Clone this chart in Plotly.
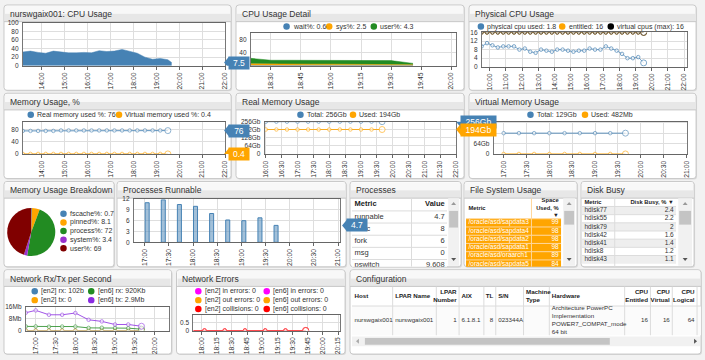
import plotly.graph_objects as go

# ---------------- data ----------------
DAY = "2024-05-14 "

cpu_times = ["13:10","13:30","13:50","14:10","14:30","14:50","15:10","15:30","15:50","16:10","16:30",
             "16:50","17:10","17:30","17:50","18:10","18:30","18:50","19:10","19:30","19:40"]
cpu_usage = [32,34,31,29,34,32,30,30,31,30,35,33,34,38,33,29,20,15,17,14,7.5]

det_times = ["18:20","18:30","18:40","18:50","19:00","19:10","19:20","19:30","19:41"]
det_wait = [1,1,1,1,1,1,1,1,0.6]
det_sys = [5,4,4,4,4,4,4,4,2.5]
det_user = [17,12,12,12,11,11,11,11,4.3]

phys_times = ["09:30","09:50","10:10","10:30","10:50","11:10","11:30","11:50","12:10","12:30","12:50",
              "13:10","13:30","13:50","14:10","14:30","14:50","15:10","15:30","15:50","16:10","16:30",
              "16:50","17:10","17:30","17:50","18:10","18:30","18:50","19:10","19:30"]
phys_used = [9.5,11,10,9,9.5,9.5,9.5,8,8.5,7,6.5,8,7.5,7,8,8,7.5,7,7.5,7.5,8.5,8,8,9.5,8.5,7.5,6,4,4,4.5,1.8]
phys_entitled = [16]*31
phys_virtual = [16]*31

mem_times = ["13:10","13:30","13:50","14:10","14:30","14:50","15:10","15:30","15:50","16:10",
             "16:30","16:50","17:10","17:30","17:50","18:10","18:30","18:50","19:10","19:30"]
mem_real = [75,75,75,75,75,76.5,76.5,76.5,76.5,76.5,76.5,76.5,76.5,76.5,76.5,76.5,76.5,76.5,76.5,76]
mem_virt = [0.4]*20

rmem_times = ["16:00","16:20","16:40","17:00","17:20","17:40","18:00","18:20","18:40","19:00","19:20","19:40"]
rmem_total = [256]*12
rmem_used = [194]*12

vmem_times = ["17:00","17:20","17:40","18:00","18:20","18:40","19:00","19:20","19:40"]
vmem_total = [129]*9
vmem_used = [0.482]*9

pie_labels = ["fscache%", "pinned%", "process%", "system%", "user%"]
pie_values = [0.7, 8.1, 72, 3.4, 69]
pie_colors = ["#4682b4", "#ffa500", "#228b22", "#9932cc", "#800000"]

run_times = ["17:03","17:23","17:43","18:03","18:23","18:43","19:03","19:23","19:43"]
run_values = [11,11.8,10.5,10,8,6.2,6,6.8,4.7]

proc_headers = ["Metric", "Value"]
proc_metric = ["runnable", "exec", "fork", "msg", "pswitch"]
proc_value = ["4.7", "8", "6", "0", "9,608"]

fs_headers = ["Metric", "Space<br>Used, %<br>▼"]
fs_metric = ["/oracle/asd/sapdata3","/oracle/asd/sapdata4","/oracle/asd/sapdata2",
             "/oracle/asd/sapdata1","/oracle/asd/oraarch1","/oracle/asd/sapdata5"]
fs_value = ["99","98","98","98","89","84"]

disk_headers = ["Metric", "Disk Busy, % ▼"]
disk_metric = ["hdisk77","hdisk55","hdisk79","hdisk42","hdisk41","hdisk8","hdisk43"]
disk_value = ["2.4","2.2","2","1.6","1.4","1.2","1.1"]

net_times = ["16:45","17:00","17:20","17:40","18:00","18:20","18:40","19:00","19:20","19:40"]
net_en2_rx = [0.0001]*10
net_en2_tx = [0]*10
net_en6_rx = [2.8,2.8,2.6,2.7,2.7,1.8,1.9,1.8,1.6,0.92]
net_en6_tx = [12.1,13.7,10.7,10.7,11.9,7.3,6.2,4.1,4.1,2.9]

err_times = ["17:52","18:03","18:23","18:43","19:03","19:23","19:43"]
err_zero = [0]*7

cfg_headers = ["Host","LPAR Name","LPAR<br>Number","AIX","TL","S/N","Machine<br>Type","Hardware",
               "CPU<br>Entitled","CPU<br>Virtual","CPU<br>Logical"]
cfg_row = ["nurswgaix001","nurswgaix001","1","6.1.8.1","8","023344A","",
           "Architecture PowerPC<br>Implementation<br>POWER7_COMPAT_mode<br>64 bit","16","16","64"]

# ---------------- helpers ----------------
W, H = 705, 360
FONT = "Liberation Sans, Arial, sans-serif"
BLUE, ORANGE, GREEN, PURPLE, BLACK = "#4682b4", "#ffa500", "#228b22", "#8a2be2", "#000000"

def X(p): return p / W
def Y(p): return 1 - p / H
def T(s): return DAY + s

fig = go.Figure()
shapes, annots = [], []
layout = {}

def rrect(x0, y0, x1, y1, fill, line=None, r=3, layer="below"):
    rx, ry = r / W, r / H
    a, b, c, d = X(x0), Y(y0), X(x1), Y(y1)
    path = (f"M {a+rx},{b} L {c-rx},{b} Q {c},{b} {c},{b-ry} L {c},{d+ry} Q {c},{d} {c-rx},{d} "
            f"L {a+rx},{d} Q {a},{d} {a},{d+ry} L {a},{b-ry} Q {a},{b} {a+rx},{b} Z")
    shapes.append(dict(type="path", xref="paper", yref="paper", path=path, fillcolor=fill,
                       line=dict(color=line or fill, width=1 if line else 0), layer=layer))

def rect(x0, y0, x1, y1, fill, line=None, layer="below"):
    shapes.append(dict(type="rect", xref="paper", yref="paper", x0=X(x0), x1=X(x1), y0=Y(y1), y1=Y(y0),
                       fillcolor=fill, line=dict(color=line or fill, width=1 if line else 0), layer=layer))

def panel(x0, y0, x1, y1, title):
    rrect(x0 + 1, y0 + 1, x1 + 1, y1 + 1, "#d9d9d9")
    rrect(x0, y0, x1, y1, "white", "#c9c9c9")
    rect(x0 + 1, y0 + 1, x1 - 1, y0 + 9, "#f8f8f8")
    rect(x0 + 1, y0 + 9, x1 - 1, y0 + 17, "#e7e7e7")
    shapes.append(dict(type="line", xref="paper", yref="paper", x0=X(x0), x1=X(x1), y0=Y(y0 + 17), y1=Y(y0 + 17),
                       line=dict(color="#c8c8c8", width=1), layer="below"))
    annots.append(dict(x=X(x0 + 4), y=Y(y0 + 9), xref="paper", yref="paper", text=title, showarrow=False,
                       xanchor="left", yanchor="middle", font=dict(size=8.5, color="#333", family=FONT)))

def legend_item(x, y, color, text, size=7):
    shapes.append(dict(type="circle", xref="paper", yref="paper", x0=X(x - 3.3), x1=X(x + 3.3),
                       y0=Y(y + 3.3), y1=Y(y - 3.3), fillcolor=color, line=dict(width=0), layer="above"))
    annots.append(dict(x=X(x + 4.5), y=Y(y), xref="paper", yref="paper", text=text, showarrow=False,
                       xanchor="left", yanchor="middle", font=dict(size=size, color="#333", family=FONT)))

def axes(k, x0, x1, y0, y1, rng, dtick_min, tick0, yrange, yvals, ytext):
    s = "" if k == 1 else str(k)
    layout["xaxis" + s] = dict(domain=[X(x0), X(x1)], anchor="y" + s, type="date",
                               range=[T(rng[0]), T(rng[1])], tickformat="%H:%M", dtick=dtick_min * 60000,
                               tick0=T(tick0), tickangle=-90, tickfont=dict(size=6.8, color="#333", family=FONT),
                               showgrid=True, gridcolor="#dedede", showline=True, linecolor="#666", mirror=True,
                               ticks="outside", ticklen=3, tickcolor="#666", zeroline=False, fixedrange=True)
    layout["yaxis" + s] = dict(domain=[Y(y1), Y(y0)], anchor="x" + s, range=yrange, tickvals=yvals,
                               ticktext=ytext, tickfont=dict(size=6.5, color="#333", family=FONT),
                               showgrid=True, gridcolor="#dedede", showline=True, linecolor="#777", mirror=True,
                               ticks="", zeroline=False, fixedrange=True, ticklabelstandoff=2)
    return ("x" + s, "y" + s)

def tag(yref, yval, x, text, color, width):
    shapes.append(dict(type="path", xref="paper", yref=yref, ysizemode="pixel", yanchor=yval,
                       path=f"M {X(x - 4)},0 L {X(x + 1)},6 L {X(x + 1)},-6 Z",
                       fillcolor=color, line=dict(width=0), layer="above"))
    annots.append(dict(x=X(x), y=yval, xref="paper", yref=yref, text=text, showarrow=False,
                       xanchor="left", yanchor="middle", bgcolor=color, borderpad=1, width=width, height=10,
                       align="center", font=dict(size=8.5, color="white", family=FONT)))

def mk(n, color, size=4, big=7):
    return dict(symbol="circle", size=[size] * (n - 1) + [big], color="white", line=dict(color=color, width=1))

def table(k, x0, y0, x1, y1, colw, aligns, headers, cols, hdr_h, row_h, hsize, csize, fills, tcolor,
          sep="#dcdcdc", vsep=True):
    s = str(k)
    xr, yr = "x" + s, "y" + s
    width, height = x1 - x0, y1 - y0
    layout["xaxis" + s] = dict(domain=[X(x0), X(x1)], anchor=yr, range=[0, width], visible=False, fixedrange=True)
    layout["yaxis" + s] = dict(domain=[Y(y1), Y(y0)], anchor=xr, range=[height, 0], visible=False, fixedrange=True)
    edges = [0]
    for w in colw:
        edges.append(edges[-1] + w)
    n = len(cols[0])
    tops = [hdr_h + i * row_h for i in range(n)]
    for i, top in enumerate(tops):
        shapes.append(dict(type="rect", xref=xr, yref=yr, x0=0, x1=edges[-1], y0=top, y1=top + row_h,
                           fillcolor=fills[i], line=dict(width=0), layer="below"))
        shapes.append(dict(type="line", xref=xr, yref=yr, x0=0, x1=edges[-1], y0=top, y1=top,
                           line=dict(color=sep, width=1), layer="below"))
    if vsep:
        for e in edges[1:-1]:
            shapes.append(dict(type="line", xref=xr, yref=yr, x0=e, x1=e, y0=0, y1=height,
                               line=dict(color=sep, width=1), layer="below"))
    hx = [edges[j] + 2.5 if a == "left" else edges[j + 1] - 2.5 for j, a in enumerate(aligns)]
    pos = ["middle right" if a == "left" else "middle left" for a in aligns]
    fig.add_trace(go.Scatter(x=hx, y=[hdr_h / 2] * len(headers), text=[f"<b>{h}</b>" for h in headers],
                             mode="text", textposition=pos, textfont=dict(size=hsize, color="#222", family=FONT),
                             xaxis=xr, yaxis=yr, showlegend=False, hoverinfo="skip"))
    for j, col in enumerate(cols):
        fig.add_trace(go.Scatter(x=[hx[j]] * n, y=[t + row_h / 2 for t in tops], text=col, mode="text",
                                 textposition=pos[j], textfont=dict(size=csize, color=tcolor, family=FONT),
                                 xaxis=xr, yaxis=yr, showlegend=False, hoverinfo="skip"))

def vscroll(x0, y0, x1, y1, t0, t1):
    rect(x0, y0, x1, y1, "#f1f1f1", layer="above")
    rect(x0 + 1, t0, x1 - 1, t1, "#c4c4c4", layer="above")
    cx = (x0 + x1) / 2
    shapes.append(dict(type="path", xref="paper", yref="paper",
                       path=f"M {X(cx-2.5)},{Y(y0+7)} L {X(cx+2.5)},{Y(y0+7)} L {X(cx)},{Y(y0+4)} Z",
                       fillcolor="#999", line=dict(width=0), layer="above"))
    shapes.append(dict(type="path", xref="paper", yref="paper",
                       path=f"M {X(cx-2.5)},{Y(y1-8)} L {X(cx+2.5)},{Y(y1-8)} L {X(cx)},{Y(y1-5)} Z",
                       fillcolor="#555", line=dict(width=0), layer="above"))

# ---------------- panels ----------------
panel(1, 1, 230, 88, "nurswgaix001: CPU Usage")
panel(235, 1, 465, 88, "CPU Usage Detail")
panel(470, 1, 699, 88, "Physical CPU Usage")
panel(1, 91, 230, 178, "Memory Usage, %")
panel(235, 91, 465, 178, "Real Memory Usage")
panel(470, 91, 699, 178, "Virtual Memory Usage")
panel(1, 181, 112, 268, "Memory Usage Breakdown")
panel(115, 181, 346, 268, "Processes Runnable")
panel(350, 181, 462, 268, "Processes")
panel(465, 181, 579, 268, "File System Usage")
panel(583, 181, 697, 268, "Disk Busy")
panel(1, 271, 170, 357, "Network Rx/Tx per Second")
panel(175, 271, 345, 357, "Network Errors")
panel(350, 271, 704, 357, "Configuration")

# ---------------- A: CPU usage ----------------
xa, ya = axes(1, 20, 224, 19, 63, ("13:10", "22:00"), 60, "14:00", [0, 100],
              [0, 20, 40, 60, 80, 100], ["0", "20", "40", "60", "80", "100"])
fig.add_trace(go.Scatter(x=[T(t) for t in cpu_times], y=cpu_usage, mode="lines", fill="tozeroy",
                         line=dict(color=BLUE, width=0.5), fillcolor=BLUE, xaxis=xa, yaxis=ya,
                         showlegend=False, hoverinfo="skip"))

# ---------------- B: CPU usage detail ----------------
xb, yb = axes(2, 250, 457, 30, 63, ("18:20", "20:02:30"), 15, "18:30", [0, 100],
              [0, 40, 80], ["0", "40", "80"])
for vals, col in ((det_wait, BLUE), (det_sys, ORANGE), (det_user, GREEN)):
    fig.add_trace(go.Scatter(x=[T(t) for t in det_times], y=vals, mode="lines", stackgroup="cpu",
                             line=dict(color=col, width=0.5), fillcolor=col, xaxis=xb, yaxis=yb,
                             showlegend=False, hoverinfo="skip"))
legend_item(286, 23, BLUE, "wait%: 0.6")
legend_item(329, 23, ORANGE, "sys%: 2.5")
legend_item(374, 23, GREEN, "user%: 4.3")

# ---------------- C: Physical CPU ----------------
xc, yc = axes(3, 483, 690, 29, 64, ("09:31", "22:11"), 60, "10:00", [0, 16],
              [0, 4, 8, 12, 16], ["0", "4", "8", "12", "16"])
for vals, col, lc in ((phys_used, BLUE, "rgba(70,130,180,0.7)"), (phys_entitled, ORANGE, ORANGE),
                      (phys_virtual, BLACK, "#333")):
    fig.add_trace(go.Scatter(x=[T(t) for t in phys_times], y=vals, mode="lines+markers",
                             line=dict(color=lc, width=1), marker=mk(len(vals), col, 3.5, 6),
                             xaxis=xc, yaxis=yc, showlegend=False, hoverinfo="skip"))
legend_item(482, 23, BLUE, "physical cpu used: 1.8")
legend_item(564, 23, ORANGE, "entitled: 16")
legend_item(613, 23, BLACK, "virtual cpus (max): 16")

# ---------------- D: Memory usage % ----------------
xd, yd = axes(4, 20, 224, 120, 153, ("13:10", "22:00"), 60, "14:00", [0, 105],
              [0, 40, 80], ["0", "40", "80"])
for vals, col in ((mem_real, BLUE), (mem_virt, ORANGE)):
    fig.add_trace(go.Scatter(x=[T(t) for t in mem_times], y=vals, mode="lines+markers",
                             line=dict(color=col, width=1), opacity=0.85, marker=mk(len(vals), col, 3.5, 6),
                             xaxis=xd, yaxis=yd, showlegend=False, hoverinfo="skip"))
legend_item(28, 113, BLUE, "Real memory used %: 76")
legend_item(117, 113, ORANGE, "Virtual memory used %: 0.4")

# ---------------- E: Real memory ----------------
xe, ye = axes(5, 264, 457, 120, 153, ("15:58", "22:00"), 30, "16:00", [0, 256],
              [0, 64, 128, 192, 256], ["0", "64Gb", "128Gb", "192Gb", "256Gb"])
for vals, col in ((rmem_total, BLUE), (rmem_used, ORANGE)):
    fig.add_trace(go.Scatter(x=[T(t) for t in rmem_times], y=vals, mode="lines+markers",
                             line=dict(color=col, width=1), opacity=0.85, marker=mk(len(vals), col, 3.5, 6),
                             xaxis=xe, yaxis=ye, showlegend=False, hoverinfo="skip"))
legend_item(300, 113, BLUE, "Total: 256Gb")
legend_item(353, 113, ORANGE, "Used: 194Gb")

# ---------------- F: Virtual memory ----------------
xf, yf = axes(6, 495, 690, 120, 153, ("16:47", "21:01"), 30, "17:00", [0, 200],
              [0, 64, 128, 192], ["0", "64Gb", "128Gb", "192Gb"])
for vals, col in ((vmem_total, BLUE), (vmem_used, ORANGE)):
    fig.add_trace(go.Scatter(x=[T(t) for t in vmem_times], y=vals, mode="lines+markers",
                             line=dict(color=col, width=1), opacity=0.85, marker=mk(len(vals), col, 3.5, 6),
                             xaxis=xf, yaxis=yf, showlegend=False, hoverinfo="skip"))
legend_item(532, 113, BLUE, "Total: 129Gb")
legend_item(587, 113, ORANGE, "Used: 482Mb")

# ---------------- G: pie ----------------
fig.add_trace(go.Pie(labels=pie_labels, values=pie_values, marker=dict(colors=pie_colors, line=dict(width=0)),
                     sort=False, direction="clockwise", rotation=0, textinfo="none", hoverinfo="skip",
                     showlegend=False, domain=dict(x=[X(4), X(53)], y=[Y(257), Y(208)])))
for i, (lab, val, col) in enumerate(zip(pie_labels, pie_values, pie_colors)):
    legend_item(61, 214 + i * 8.8, col, f"{lab}: {val:g}")

# ---------------- H: processes runnable ----------------
xh, yh = axes(7, 132, 340, 199, 243, ("16:46:30", "21:02:30"), 30, "17:00", [0, 12],
              [0, 3, 6, 9, 12], ["0", "3", "6", "9", "12"])
fig.add_trace(go.Bar(x=[T(t) for t in run_times], y=run_values, width=300000,
                     marker=dict(color="rgba(70,130,180,0.5)", line=dict(color=BLUE, width=1)),
                     xaxis=xh, yaxis=yh, showlegend=False, hoverinfo="skip"))

# ---------------- I: network rx/tx ----------------
xi, yi = axes(8, 23, 167, 309, 333, ("16:45", "20:21"), 30, "17:00", [0, 16],
              [0, 8, 16], ["0", "8Mb", "16Mb"])
for vals, col in ((net_en2_rx, BLUE), (net_en2_tx, ORANGE), (net_en6_rx, GREEN), (net_en6_tx, PURPLE)):
    fig.add_trace(go.Scatter(x=[T(t) for t in net_times], y=vals, mode="lines+markers",
                             line=dict(color=col, width=1), opacity=0.8, marker=mk(len(vals), col, 3.5, 6),
                             xaxis=xi, yaxis=yi, showlegend=False, hoverinfo="skip"))
legend_item(32, 293, BLUE, "[en2] rx: 102b")
legend_item(89, 293, GREEN, "[en6] rx: 920Kb")
legend_item(32, 302, ORANGE, "[en2] tx: 0")
legend_item(89, 302, PURPLE, "[en6] tx: 2.9Mb")

# ---------------- J: network errors ----------------
xj, yj = axes(9, 192, 340, 317, 333, ("17:52", "20:17"), 15, "18:00", [0, 1],
              [0, 0.5], ["0", "0.5"])
for col in ("#ff00ff", ORANGE, "#ff0000", "#ff00ff", ORANGE, "#ff0000"):
    fig.add_trace(go.Scatter(x=[T(t) for t in err_times], y=err_zero, mode="lines+markers",
                             line=dict(color=col, width=1), opacity=0.6,
                             marker=dict(symbol="circle", size=[0] + [3.5] * 5 + [6], color="white",
                                         line=dict(color=col, width=1)),
                             xaxis=xj, yaxis=yj, showlegend=False, hoverinfo="skip"))
for i, (lab, col) in enumerate((("in errors", "#ff00ff"), ("out errors", ORANGE), ("collisions", "#ff0000"))):
    legend_item(197, 293 + i * 9, col, f"[en2] {lab}: 0")
    legend_item(266, 293 + i * 9, col, f"[en6] {lab}: 0")

# ---------------- tables ----------------
table(10, 352, 198, 448, 268, [60, 36], ["left", "right"], proc_headers, [proc_metric, proc_value],
      13, 12.4, 7.5, 7.5, ["white"] * len(proc_metric), "#333")
vscroll(449, 198, 460, 267, 211, 228)

table(11, 467, 198, 563, 268, [66, 30], ["left", "right"], fs_headers, [fs_metric, fs_value],
      21, 8.4, 5.8, 6.5, [ORANGE] * len(fs_metric), "white", sep="#ffd79a")
vscroll(565, 198, 577, 267, 211, 225)

disk_fill = ["#eeeeee" if i % 2 == 0 else "white" for i in range(len(disk_metric))]
table(12, 584, 198, 679, 268, [33, 62], ["left", "right"], disk_headers, [disk_metric, disk_value],
      8.5, 8.33, 5.8, 6.5, disk_fill, "#333")
vscroll(681, 198, 695, 267, 211, 225)

cfg_align = ["left", "left", "right", "left", "right", "left", "left", "left", "right", "right", "right"]
table(13, 352, 288, 704, 338, [41, 44, 23, 25, 12, 28, 26, 76, 26, 22, 25, 4], cfg_align + ["left"],
      cfg_headers + [""], [[v] for v in cfg_row] + [[""]], 20, 30, 6.2, 6.2, ["#fbfbfb"], "#333")
rect(352, 339, 703, 349, "#f1f1f1", layer="above")
rect(365, 340.5, 612, 347.5, "#c4c4c4", layer="above")
shapes.append(dict(type="path", xref="paper", yref="paper",
                   path=f"M {X(356)},{Y(344)} L {X(359)},{Y(341.5)} L {X(359)},{Y(346.5)} Z",
                   fillcolor="#aaa", line=dict(width=0), layer="above"))
shapes.append(dict(type="path", xref="paper", yref="paper",
                   path=f"M {X(700)},{Y(344)} L {X(697)},{Y(341.5)} L {X(697)},{Y(346.5)} Z",
                   fillcolor="#555", line=dict(width=0), layer="above"))

# ---------------- last-value tags ----------------
tag(ya, cpu_usage[-1], 227, f"{cpu_usage[-1]:g}", BLUE, 18)
tag(yd, mem_real[-1], 227, f"{mem_real[-1]:g}", BLUE, 18)
tag(yd, mem_virt[-1], 227, f"{mem_virt[-1]:g}", ORANGE, 18)
tag(ye, rmem_total[-1], 461, f"{rmem_total[-1]}Gb", BLUE, 33)
tag(ye, rmem_used[-1], 461, f"{rmem_used[-1]}Gb", ORANGE, 33)
tag(yh, run_values[-1], 346, f"{run_values[-1]:g}", BLUE, 18)

fig.update_layout(width=W, height=H, autosize=False, margin=dict(l=0, r=0, t=0, b=0),
                  paper_bgcolor="#f2f2f2", plot_bgcolor="white", font=dict(family=FONT),
                  shapes=shapes, annotations=annots, showlegend=False, **layout)
fig.write_html("out.html", config={"displayModeBar": False},
               post_script="document.body.style.margin='0px';")
